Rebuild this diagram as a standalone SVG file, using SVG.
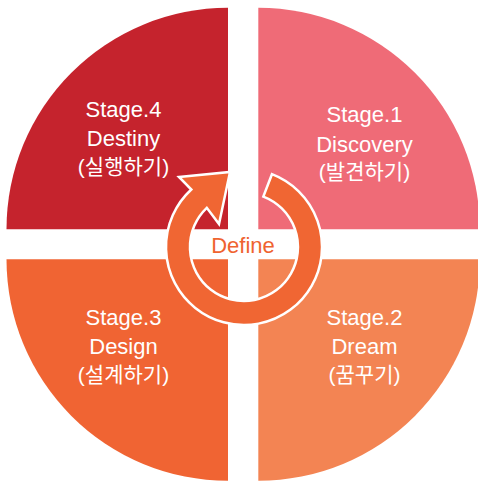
<svg xmlns="http://www.w3.org/2000/svg" width="478" height="482" viewBox="0 0 478 482">
  <style>
    .lbl { font-family: "Liberation Sans", Arial, "Noto Sans CJK KR", sans-serif; font-size: 22px; fill: #ffffff; text-anchor: middle; }
    .ko { font-family: "Liberation Sans", Arial, "Noto Sans CJK KR", sans-serif; font-size: 21px; fill: #ffffff; text-anchor: middle; }
    .def { font-family: "Liberation Sans", Arial, sans-serif; font-size: 22px; fill: #EF6330; text-anchor: middle; }
  </style>
  <rect width="478" height="482" fill="#ffffff"/>
  <g id="stage4">
    <path d="M228,229.3 L6.5,229.3 A221.5,221.5 0 0 1 228,7.8 Z" fill="#C5232D"/>
    <text class="lbl" x="123.5" y="117">Stage.4</text>
    <text class="lbl" x="123.5" y="146">Destiny</text>
    <text class="ko" x="123.5" y="174">(실행하기)</text>
  </g>
  <g id="stage1">
    <path d="M258.3,229.3 L258.3,7.8 A221.5,221.5 0 0 1 479.8,229.3 Z" fill="#EF6B77"/>
    <text class="lbl" x="364.5" y="122">Stage.1</text>
    <text class="lbl" x="364.5" y="151.5">Discovery</text>
    <text class="ko" x="364.5" y="178.5">(발견하기)</text>
  </g>
  <g id="stage3">
    <path d="M228,259.3 L228,480.8 A221.5,221.5 0 0 1 6.5,259.3 Z" fill="#F06433"/>
    <text class="lbl" x="123.5" y="325">Stage.3</text>
    <text class="lbl" x="123.5" y="353.5">Design</text>
    <text class="ko" x="123.5" y="381.5">(설계하기)</text>
  </g>
  <g id="stage2">
    <path d="M258.3,259.3 L479.8,259.3 A221.5,221.5 0 0 1 258.3,480.8 Z" fill="#F38453"/>
    <text class="lbl" x="364.5" y="325">Stage.2</text>
    <text class="lbl" x="364.5" y="353.5">Dream</text>
    <text class="ko" x="364.5" y="381.5">(꿈꾸기)</text>
  </g>
  <g id="connectors">
    <path d="M271.95,174.18 A78,78 0 1 1 191.3,189.5 L179,177 L230,172 L219,224 L206.8,207.8 A54,54 0 1 0 263.35,196.6 Z" fill="#F06633" stroke="#ffffff" stroke-width="2.5" stroke-linejoin="miter"/>
  </g>
  <g id="define">
    <text class="def" x="243" y="252.5">Define</text>
  </g>
</svg>
